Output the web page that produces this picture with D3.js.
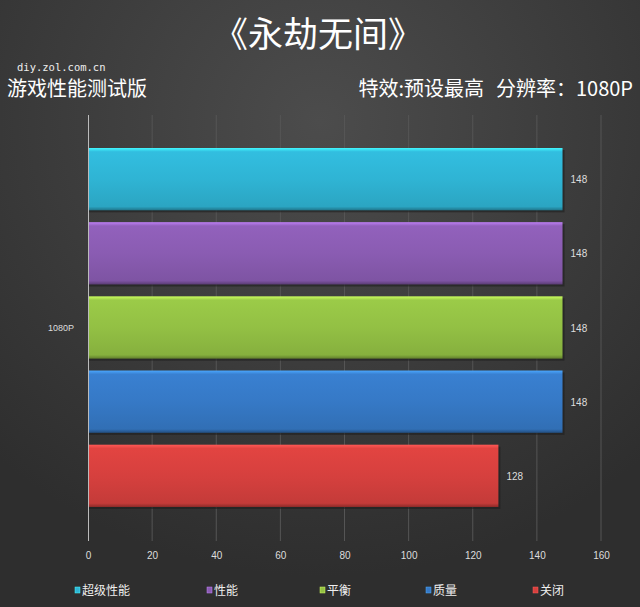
<!DOCTYPE html>
<html><head><meta charset="utf-8">
<script src="https://cdn.jsdelivr.net/npm/d3@7"></script>
<style>html,body{margin:0;padding:0;background:#333;}svg{display:block;}</style>
</head><body>
<script>
const categories = ["1080P"];
const seriesNames = ["超级性能", "性能", "平衡", "质量", "关闭"];
const seriesValues = [148, 148, 148, 148, 128];
const seriesColors = ["#2fb4d4", "#8a5cb2", "#93c044", "#3679c6", "#d6403e"];
const xTicks = [0, 20, 40, 60, 80, 100, 120, 140, 160];
const titleText = "《永劫无间》";
const siteText = "diy.zol.com.cn";
const subLeft = "游戏性能测试版";
const subRight1 = "特效:预设最高";
const subRight2 = "分辨率：1080P";

const W = 640, H = 607;
const svg = d3.select("body").append("svg").attr("width", W).attr("height", H);
const defs = svg.append("defs");
const bg = defs.append("radialGradient").attr("id", "bg").attr("cx", "50%").attr("cy", "20%").attr("r", "75%");
bg.append("stop").attr("offset", "0%").attr("stop-color", "#4c4c4c");
bg.append("stop").attr("offset", "100%").attr("stop-color", "#2e2e2e");
svg.append("rect").attr("width", W).attr("height", H).attr("fill", "url(#bg)");

const font = "'Noto Sans CJK SC', 'Microsoft YaHei', sans-serif";
svg.append("text").attr("x", 318).attr("y", 47).attr("text-anchor", "middle")
  .attr("font-family", font).attr("font-size", 35).attr("fill", "#fff").text(titleText);
svg.append("text").attr("x", 17).attr("y", 71).attr("font-family", "'DejaVu Sans Mono', monospace")
  .attr("font-size", 10.5).attr("fill", "#eee").text(siteText);
svg.append("text").attr("x", 7).attr("y", 96).attr("font-family", font)
  .attr("font-size", 20).attr("fill", "#fff").text(subLeft);
svg.append("text").attr("x", 484).attr("y", 96).attr("text-anchor", "end").attr("font-family", font)
  .attr("font-size", 20).attr("fill", "#fff").text(subRight1);
svg.append("text").attr("x", 633).attr("y", 96).attr("text-anchor", "end").attr("font-family", font)
  .attr("font-size", 20).attr("fill", "#fff").text(subRight2);

const x = d3.scaleLinear().domain([0, 160]).range([88, 601]);
const y0 = d3.scaleBand().domain(categories).range([148, 507]);
const y1 = d3.scaleBand().domain(seriesNames).range([0, y0.bandwidth()]).paddingInner(0.16);

// gridlines
svg.append("g").selectAll("line").data(xTicks.slice(1)).join("line")
  .attr("x1", d => x(d)).attr("x2", d => x(d)).attr("y1", 115).attr("y2", 541)
  .attr("stroke", "#555").attr("stroke-width", 1);

seriesColors.forEach((c, i) => {
  const g = defs.append("linearGradient").attr("id", "g" + i).attr("x1", 0).attr("y1", 0).attr("x2", 0).attr("y2", 1);
  const col = d3.color(c);
  g.append("stop").attr("offset", "0%").attr("stop-color", col.brighter(0.9));
  g.append("stop").attr("offset", "6%").attr("stop-color", col.brighter(0.15));
  g.append("stop").attr("offset", "50%").attr("stop-color", c);
  g.append("stop").attr("offset", "94%").attr("stop-color", col.darker(0.25));
  g.append("stop").attr("offset", "100%").attr("stop-color", col.darker(1.2));
});

const bars = svg.append("g");
categories.forEach(cat => {
  seriesNames.forEach((s, i) => {
    const yy = y0(cat) + y1(s);
    bars.append("rect").attr("x", x(0)).attr("y", yy + 2).attr("width", x(seriesValues[i]) - x(0) + 2)
      .attr("height", y1.bandwidth()).attr("fill", "#1e1e1e").attr("opacity", 0.6);
    bars.append("rect").attr("x", x(0)).attr("y", yy).attr("width", x(seriesValues[i]) - x(0))
      .attr("height", y1.bandwidth()).attr("fill", "url(#g" + i + ")");
    bars.append("text").attr("x", x(seriesValues[i]) + 8).attr("y", yy + y1.bandwidth() / 2 + 4)
      .attr("font-family", "'Liberation Sans', Arial, sans-serif").attr("font-size", 10).attr("fill", "#ddd")
      .text(seriesValues[i]);
  });
  svg.append("text").attr("x", 48).attr("y", y0(cat) + y0.bandwidth() / 2 + 3)
    .attr("font-family", "'Liberation Sans', Arial, sans-serif").attr("font-size", 9).attr("fill", "#ddd").text(cat);
});

svg.append("line").attr("x1", 88.5).attr("x2", 88.5).attr("y1", 115).attr("y2", 541)
  .attr("stroke", "#bbb").attr("stroke-width", 1);

const xAxis = svg.append("g").attr("transform", "translate(0,548)")
  .call(d3.axisBottom(x).tickValues(xTicks).tickSize(0).tickPadding(4));
xAxis.select(".domain").remove();
xAxis.selectAll("text").attr("font-family", "'Liberation Sans', Arial, sans-serif").attr("font-size", 10).attr("fill", "#ddd");

const legendX = [75, 207, 320, 426, 533];
const lg = svg.append("g");
seriesNames.forEach((s, i) => {
  lg.append("rect").attr("x", legendX[i]).attr("y", 587).attr("width", 5).attr("height", 6)
    .attr("fill", seriesColors[i]).attr("stroke", d3.color(seriesColors[i]).brighter(1)).attr("stroke-width", 0.5);
  lg.append("text").attr("x", legendX[i] + 7).attr("y", 595).attr("font-family", font)
    .attr("font-size", 12).attr("fill", "#eee").text(s);
});
</script>
</body></html>
